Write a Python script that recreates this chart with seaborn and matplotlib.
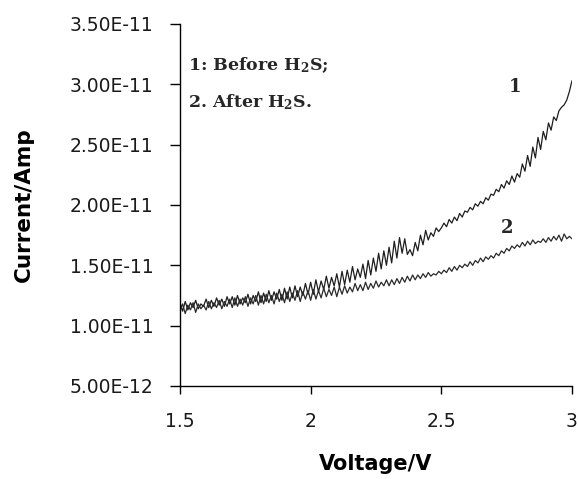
import numpy as np
import pandas as pd
import matplotlib
matplotlib.use("Agg")
import matplotlib.pyplot as plt
import matplotlib.ticker as mticker
import seaborn as sns

# ── data (current in units of 1e-12 A) ────────────────────────────
voltage = np.round(np.arange(1.50, 3.001, 0.01), 2)

before_pA = [
    11.9, 11.2, 12.0, 11.3, 11.9, 11.5, 12.1, 11.4, 11.8, 11.6,
    12.2, 11.5, 12.1, 11.6, 12.3, 11.7, 12.2, 11.6, 12.4, 11.8,
    12.4, 11.7, 12.5, 11.8, 12.3, 11.9, 12.6, 11.8, 12.5, 12.0,
    12.8, 11.9, 12.7, 12.0, 12.9, 12.1, 12.8, 12.2, 13.0, 12.1,
    13.1, 12.2, 13.2, 12.3, 13.3, 12.4, 13.2, 12.5, 13.5, 12.6,
    13.6, 12.6, 13.8, 12.8, 13.7, 13.0, 14.1, 13.1, 14.0, 13.3,
    14.3, 13.2, 14.5, 13.4, 14.6, 13.6, 14.9, 13.8, 14.7, 14.0,
    15.1, 13.9, 15.4, 14.2, 15.6, 14.5, 16.0, 14.7, 16.2, 15.0,
    16.5, 15.2, 17.0, 15.6, 17.3, 16.0, 17.2, 15.9, 16.3, 15.8,
    16.9, 16.2, 17.5, 16.7, 17.9, 17.1, 17.7, 17.4, 18.1, 17.8,
    18.1, 18.5, 18.2, 18.8, 18.5, 19.0, 18.7, 19.3, 19.0, 19.5,
    19.4, 19.8, 19.6, 20.1, 19.9, 20.3, 20.1, 20.6, 20.4, 20.9,
    20.8, 21.3, 21.1, 21.7, 21.4, 22.0, 21.7, 22.4, 21.9, 22.6,
    22.3, 23.4, 22.8, 24.1, 23.2, 24.8, 23.9, 25.6, 24.6, 26.1,
    25.4, 26.8, 26.2, 27.3, 27.0, 27.8, 28.1, 28.3, 28.7, 29.4,
    30.3,
]

after_pA = [
    11.2, 11.8, 11.0, 11.7, 11.3, 11.9, 11.1, 11.8, 11.4, 11.7,
    11.3, 12.0, 11.4, 11.9, 11.5, 12.1, 11.4, 12.0, 11.6, 12.2,
    11.5, 12.3, 11.6, 12.2, 11.7, 12.4, 11.6, 12.3, 11.8, 12.5,
    11.7, 12.5, 11.8, 12.6, 11.9, 12.5, 11.8, 12.7, 12.0, 12.6,
    11.9, 12.8, 12.0, 12.7, 12.1, 12.9, 12.0, 12.8, 12.2, 12.9,
    12.1, 13.0, 12.2, 12.9, 12.3, 13.1, 12.4, 13.0, 12.5, 13.2,
    12.4, 13.2, 12.6, 13.3, 12.7, 13.2, 12.8, 13.5, 12.9, 13.4,
    12.9, 13.6, 13.0, 13.5, 13.1, 13.7, 13.2, 13.6, 13.3, 13.8,
    13.3, 13.8, 13.4, 13.9, 13.5, 14.0, 13.6, 14.1, 13.7, 14.2,
    13.8, 14.2, 13.9, 14.3, 14.0, 14.4, 14.1, 14.3, 14.2, 14.5,
    14.3, 14.6, 14.4, 14.8, 14.5, 14.9, 14.6, 15.0, 14.8, 15.1,
    14.9, 15.3, 15.0, 15.4, 15.2, 15.6, 15.3, 15.7, 15.5, 15.8,
    15.6, 16.0, 15.8, 16.2, 16.0, 16.4, 16.2, 16.6, 16.4, 16.7,
    16.5, 16.9, 16.6, 17.0, 16.7, 17.1, 16.8, 17.0, 16.9, 17.2,
    16.9, 17.3, 17.0, 17.4, 17.1, 17.5, 17.0, 17.6, 17.2, 17.4,
    17.2,
]

y_ticks = [5e-12, 1e-11, 1.5e-11, 2e-11, 2.5e-11, 3e-11, 3.5e-11]
x_ticks = [1.5, 2.0, 2.5, 3.0]

df = pd.DataFrame({
    "voltage": np.concatenate([voltage, voltage]),
    "current": np.array(before_pA + after_pA) * 1e-12,
    "curve": ["1"] * len(before_pA) + ["2"] * len(after_pA),
})

sns.set_theme(style="white")
plt.rcParams["font.family"] = ["DejaVu Sans"]
plt.rcParams["mathtext.fontset"] = "dejavuserif"

fig = plt.figure(figsize=(5.78, 4.79), dpi=100)
ax = fig.add_axes([0.3114, 0.1942, 0.6782, 0.7557])

sns.lineplot(data=df, x="voltage", y="current", hue="curve",
             palette=["#1e1e1e", "#2a2a2a"], linewidth=0.9,
             legend=False, ax=ax, estimator=None, sort=False)

ax.set_xlim(1.5, 3.0)
ax.set_ylim(5e-12, 3.5e-11)
ax.set_xticks(x_ticks)
ax.set_yticks(y_ticks)
ax.xaxis.set_major_formatter(mticker.FuncFormatter(lambda v, _: f"{v:g}"))
ax.yaxis.set_major_formatter(mticker.FuncFormatter(lambda v, _: f"{v:.2E}"))

for side in ["top", "right"]:
    ax.spines[side].set_visible(False)
for side in ["left", "bottom"]:
    ax.spines[side].set_color("black")
    ax.spines[side].set_linewidth(1.0)

ax.tick_params(axis="y", direction="out", length=7, width=1,
               color="black", labelsize=13.5, pad=12, left=True,
               labelcolor="#1a1a1a")
ax.tick_params(axis="x", direction="out", length=6, width=1,
               color="black", labelsize=13.5, pad=13, bottom=True,
               labelcolor="#1a1a1a")

ax.set_xlabel("Voltage/V", fontsize=15, fontweight="bold", labelpad=16,
              color="black")
ax.set_ylabel("Current/Amp", fontsize=15.5, fontweight="bold", labelpad=26,
              color="black")

serif = ["DejaVu Serif"]
ax.text(1.531, 3.16e-11, r"1: Before H$_\mathbf{2}$S;", family=serif,
        fontweight="bold", fontsize=12.5, va="center", ha="left")
ax.text(1.531, 2.854e-11, r"2. After H$_\mathbf{2}$S.", family=serif,
        fontweight="bold", fontsize=12.5, va="center", ha="left")
ax.text(2.782, 2.98e-11, "1", family=serif, fontweight="bold",
        fontsize=13, va="center", ha="center")
ax.text(2.751, 1.81e-11, "2", family=serif, fontweight="bold",
        fontsize=13, va="center", ha="center")

fig.savefig("out.png", dpi=100)
